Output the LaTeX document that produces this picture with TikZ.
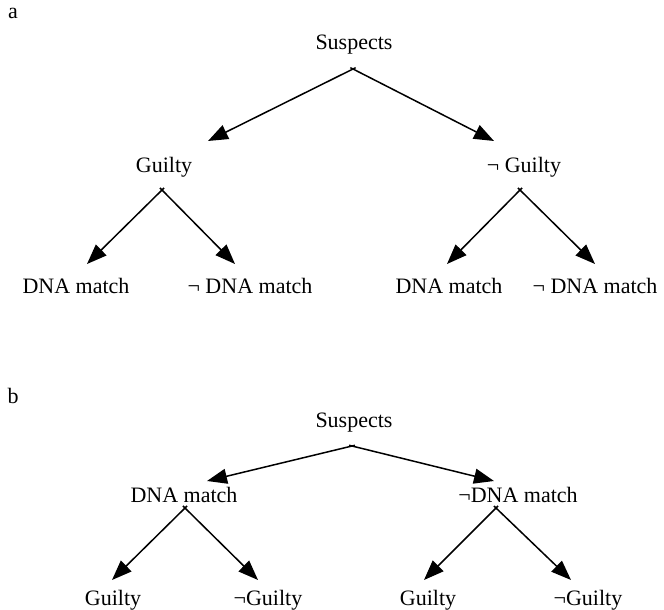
\documentclass[tikz,border=0pt]{standalone}
\usepackage{fontspec}
\setmainfont{Liberation Serif}
\usetikzlibrary{arrows.meta,calc}
\begin{document}
\begin{tikzpicture}[x=1pt,y=-1pt,
  lbl/.style={anchor=base,inner sep=0pt,font=\fontsize{22}{26}\selectfont},
  edge/.style={line width=1.5pt,-{Triangle[length=20pt,width=15pt]}}]
\useasboundingbox (0,0) rectangle (664,610);
% panel a
\node[lbl] (la) at (13,19) {a};
\node[lbl] (s1) at (354,49) {Suspects};
\node[lbl] (g1) at (164,172) {Guilty};
\node[lbl] (ng1) at (524,172) {\char"00AC{} Guilty};
\node[lbl] (d1) at (76,293) {DNA match};
\node[lbl] (nd1) at (250,293) {\char"00AC{} DNA match};
\node[lbl] (d2) at (449,293) {DNA match};
\node[lbl] (nd2) at (595,293) {\char"00AC{} DNA match};
\coordinate (ta) at (353,69);
\coordinate (tg1) at (162,190);
\coordinate (tng1) at (520,190);
\coordinate (pg1) at (208,141);
\coordinate (png1) at (494,141);
\coordinate (pd1) at (87,264);
\coordinate (pnd1) at (235,264);
\coordinate (pd2) at (447,264);
\coordinate (pnd2) at (595,264);
\draw[edge] ($(ta)!-3pt!(pg1)$) -- (pg1);
\draw[edge] ($(ta)!-3pt!(png1)$) -- (png1);
\draw[edge] ($(tg1)!-3pt!(pd1)$) -- (pd1);
\draw[edge] ($(tg1)!-3pt!(pnd1)$) -- (pnd1);
\draw[edge] ($(tng1)!-3pt!(pd2)$) -- (pd2);
\draw[edge] ($(tng1)!-3pt!(pnd2)$) -- (pnd2);
% panel b
\node[lbl] (lb) at (13,403) {b};
\node[lbl] (s2) at (354,427) {Suspects};
\node[lbl] (d3) at (184,502) {DNA match};
\node[lbl] (nd3) at (518,502) {\char"00AC DNA match};
\node[lbl] (g2) at (113,605) {Guilty};
\node[lbl] (ng2) at (268,605) {\char"00AC Guilty};
\node[lbl] (g3) at (428,605) {Guilty};
\node[lbl] (ng3) at (588,605) {\char"00AC Guilty};
\coordinate (tb) at (352,446);
\coordinate (td3) at (185,508);
\coordinate (tnd3) at (496,508);
\coordinate (pd3) at (207,481);
\coordinate (pnd3) at (494,481);
\coordinate (pg2) at (112,580);
\coordinate (png2) at (258,580);
\coordinate (pg3) at (424,580);
\coordinate (png3) at (571,580);
\draw[edge] ($(tb)!-3pt!(pd3)$) -- (pd3);
\draw[edge] ($(tb)!-3pt!(pnd3)$) -- (pnd3);
\draw[edge] ($(td3)!-3pt!(pg2)$) -- (pg2);
\draw[edge] ($(td3)!-3pt!(png2)$) -- (png2);
\draw[edge] ($(tnd3)!-3pt!(pg3)$) -- (pg3);
\draw[edge] ($(tnd3)!-3pt!(png3)$) -- (png3);
\end{tikzpicture}
\end{document}
